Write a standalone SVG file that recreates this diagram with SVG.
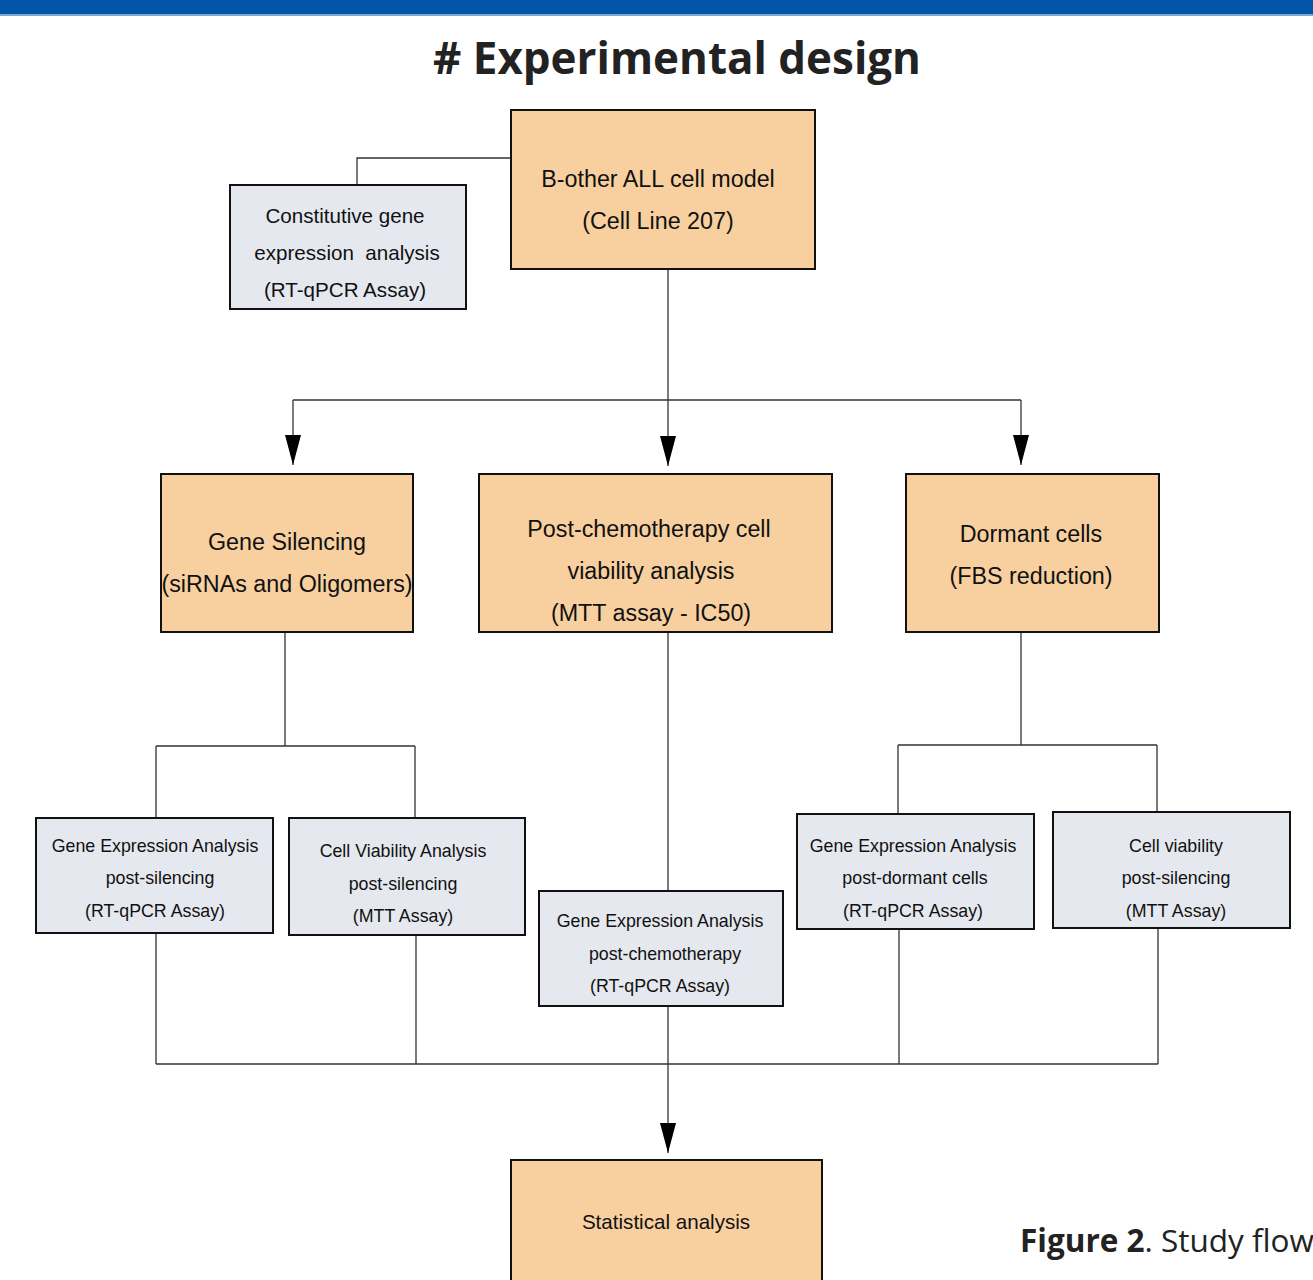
<svg xmlns="http://www.w3.org/2000/svg" width="1313" height="1280" viewBox="0 0 1313 1280">
<defs>
<style>
.o{fill:#f8d0a0;stroke:#111;stroke-width:2}
.g{fill:#e6e8ef;stroke:#111;stroke-width:2}
.t{font-family:"Liberation Sans",Arial,sans-serif;fill:#111;text-anchor:middle;white-space:pre}
.l{font-size:23.3px}
.m{font-size:20.6px}
.s{font-size:17.8px}
.st{font-size:20.6px}
.c{fill:none;stroke:#333;stroke-width:1.3}
</style>
<marker id="ah" viewBox="0 0 30 16" refX="30" refY="8" markerWidth="30" markerHeight="16" markerUnits="userSpaceOnUse" orient="auto">
<path d="M0,0 L30,8 L0,16 Z" fill="#000"/>
</marker>
</defs>
<rect width="1313" height="1280" fill="#fff"/>
<rect x="0" y="0" width="1313" height="14" fill="#0254a6"/>
<rect x="0" y="14" width="1313" height="2" fill="#7fa7d3"/>
<text x="677" y="74" font-family="'Open Sans','Noto Sans',sans-serif" font-weight="bold" font-size="44" fill="#222" text-anchor="middle" textLength="488" lengthAdjust="spacingAndGlyphs"># Experimental design</text>
<text x="1020" y="1252" font-family="'Open Sans','Noto Sans',sans-serif" font-size="31.5" fill="#222"><tspan font-weight="bold">Figure 2</tspan>. Study flow</text>

<g id="connectors">
<path class="c" d="M511,158 H357 V185"/>
<path class="c" d="M668,269 V400"/>
<path class="c" d="M293,400 H1021"/>
<path class="c" d="M293,400 V465" marker-end="url(#ah)"/>
<path class="c" d="M668,400 V466" marker-end="url(#ah)"/>
<path class="c" d="M1021,400 V465" marker-end="url(#ah)"/>
<path class="c" d="M285,633 V746 M156,746 H415 M156,746 V818 M415,746 V818"/>
<path class="c" d="M668,633 V891"/>
<path class="c" d="M1021,633 V745 M898,745 H1157 M898,745 V814 M1157,745 V812"/>
<path class="c" d="M156,933 V1064 M416,935 V1064 M899,929 V1064 M1158,928 V1064 M156,1064 H1158"/>
<path class="c" d="M668,1006 V1153" marker-end="url(#ah)"/>
</g>

<g id="n-bother">
<rect class="o" x="511" y="110" width="304" height="159"/>
<text class="t l" x="658" y="187">B-other ALL cell model</text>
<text class="t l" x="658" y="229">(Cell Line 207)</text>
</g>
<g id="n-constitutive">
<rect class="g" x="230" y="185" width="236" height="124"/>
<text class="t m" x="345" y="223">Constitutive gene</text>
<text class="t m" x="347" y="260">expression  analysis</text>
<text class="t m" x="345" y="297">(RT-qPCR Assay)</text>
</g>
<g id="n-silencing">
<rect class="o" x="161" y="474" width="252" height="158"/>
<text class="t l" x="287" y="550">Gene Silencing</text>
<text class="t l" x="287" y="592">(siRNAs and Oligomers)</text>
</g>
<g id="n-postchemo">
<rect class="o" x="479" y="474" width="353" height="158"/>
<text class="t l" x="649" y="537">Post-chemotherapy cell</text>
<text class="t l" x="651" y="579">viability analysis</text>
<text class="t l" x="651" y="621">(MTT assay - IC50)</text>
</g>
<g id="n-dormant">
<rect class="o" x="906" y="474" width="253" height="158"/>
<text class="t l" x="1031" y="542">Dormant cells</text>
<text class="t l" x="1031" y="584">(FBS reduction)</text>
</g>
<g id="n-ge-silencing">
<rect class="g" x="36" y="818" width="237" height="115"/>
<text class="t s" x="155" y="852">Gene Expression Analysis</text>
<text class="t s" x="160" y="884">post-silencing</text>
<text class="t s" x="155" y="917">(RT-qPCR Assay)</text>
</g>
<g id="n-cv-silencing">
<rect class="g" x="289" y="818" width="236" height="117"/>
<text class="t s" x="403" y="857">Cell Viability Analysis</text>
<text class="t s" x="403" y="890">post-silencing</text>
<text class="t s" x="403" y="922">(MTT Assay)</text>
</g>
<g id="n-ge-chemo">
<rect class="g" x="539" y="891" width="244" height="115"/>
<text class="t s" x="660" y="927">Gene Expression Analysis</text>
<text class="t s" x="665" y="960">post-chemotherapy</text>
<text class="t s" x="660" y="992">(RT-qPCR Assay)</text>
</g>
<g id="n-ge-dormant">
<rect class="g" x="797" y="814" width="237" height="115"/>
<text class="t s" x="913" y="852">Gene Expression Analysis</text>
<text class="t s" x="915" y="884">post-dormant cells</text>
<text class="t s" x="913" y="917">(RT-qPCR Assay)</text>
</g>
<g id="n-cv-dormant">
<rect class="g" x="1053" y="812" width="237" height="116"/>
<text class="t s" x="1176" y="852">Cell viability</text>
<text class="t s" x="1176" y="884">post-silencing</text>
<text class="t s" x="1176" y="917">(MTT Assay)</text>
</g>
<g id="n-stats">
<rect class="o" x="511" y="1160" width="311" height="130"/>
<text class="t st" x="666" y="1229">Statistical analysis</text>
</g>
</svg>
